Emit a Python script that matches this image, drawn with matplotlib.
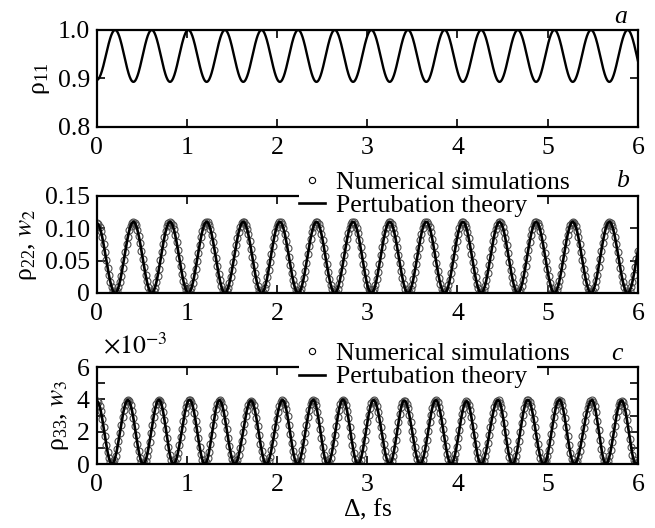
import numpy as np
import matplotlib.pyplot as plt
from matplotlib.lines import Line2D
from matplotlib.patches import Rectangle

plt.rcParams['font.family'] = ['Liberation Serif', 'DejaVu Serif']
plt.rcParams['mathtext.fontset'] = 'stix'
plt.rcParams['font.size'] = 18.5

# extrema of rho11 and rho22 (fs), the last one lies just past 6
ext_x_ab = [0.0, 0.203, 0.406, 0.609, 0.812, 1.015, 1.218, 1.421, 1.624, 1.827,
            2.030, 2.233, 2.436, 2.639, 2.842, 3.045, 3.248, 3.451, 3.654, 3.857,
            4.060, 4.263, 4.466, 4.669, 4.872, 5.075, 5.278, 5.481, 5.684, 5.887, 6.090]
rho11_ext = [0.897, 1.0, 0.893, 1.0, 0.893, 1.0, 0.893, 1.0, 0.893, 1.0,
             0.893, 1.0, 0.893, 1.0, 0.893, 1.0, 0.893, 1.0, 0.893, 1.0,
             0.893, 1.0, 0.893, 1.0, 0.893, 1.0, 0.893, 1.0, 0.893, 1.0, 0.893]
rho22_ext = [0.108, 0.0, 0.110, 0.0, 0.110, 0.0, 0.110, 0.0, 0.110, 0.0,
             0.110, 0.0, 0.110, 0.0, 0.110, 0.0, 0.110, 0.0, 0.110, 0.0,
             0.110, 0.0, 0.110, 0.0, 0.110, 0.0, 0.110, 0.0, 0.110, 0.0, 0.110]

# extrema of rho33 (units of 1e-3)
ext_x_c = [0.0, 0.168, 0.345, 0.515, 0.690, 0.850, 1.030, 1.198, 1.360, 1.530,
           1.710, 1.880, 2.060, 2.225, 2.400, 2.560, 2.730, 2.896, 3.070, 3.247,
           3.410, 3.586, 3.760, 3.930, 4.100, 4.262, 4.450, 4.610, 4.780, 4.956,
           5.130, 5.296, 5.490, 5.646, 5.820, 5.980, 6.160]
rho33_ext = [3.90, 0.0, 3.95, 0.0, 3.97, 0.0, 3.98, 0.0, 3.95, 0.0,
             3.92, 0.0, 3.95, 0.0, 3.97, 0.0, 3.98, 0.0, 3.95, 0.0,
             3.93, 0.0, 3.95, 0.0, 3.88, 0.0, 3.95, 0.0, 3.97, 0.0,
             3.98, 0.0, 3.95, 0.0, 3.92, 0.0, 3.90]

xticks = [0, 1, 2, 3, 4, 5, 6]


def through_extrema(x, xe, ye):
    # smooth half-cosine run between neighbouring extrema
    xe = np.asarray(xe)
    ye = np.asarray(ye)
    i = np.clip(np.searchsorted(xe, x, side='right') - 1, 0, len(xe) - 2)
    t = (x - xe[i]) / (xe[i + 1] - xe[i])
    s = (1 - np.cos(np.pi * t)) / 2
    return ye[i] + (ye[i + 1] - ye[i]) * s


x_line = np.linspace(0, 6, 1500)
x_sim = np.arange(0, 6.0001, 0.015)

W, H = 655, 528
fig = plt.figure(figsize=(6.55, 5.28), dpi=100)
left, width, height = 0.1478, 0.826, 0.1837
ax_a = fig.add_axes([left, 0.7595, width, height])
ax_b = fig.add_axes([left, 0.4451, width, height])
ax_c = fig.add_axes([left, 0.1212, width, height])

for ax in (ax_a, ax_b, ax_c):
    ax.set_xlim(0, 6)
    ax.set_xticks(xticks)
    ax.tick_params(which='both', direction='in', top=True, right=True,
                   length=6, width=1.2)
    ax.tick_params(axis='x', pad=7)
    ax.tick_params(axis='y', pad=5)
    for sp in ax.spines.values():
        sp.set_linewidth(1.6)

# panel a
ax_a.plot(x_line, through_extrema(x_line, ext_x_ab, rho11_ext), color='black', lw=1.7)
ax_a.set_ylim(0.8, 1.0)
ax_a.set_yticks([0.8, 0.9, 1.0])
ax_a.set_yticklabels(['0.8', '0.9', '1.0'])
ax_a.set_ylabel(r'$\mathregular{ρ_{11}}$')

sim_style = dict(ls='none', marker='o', ms=5, mfc='none', mec='0.3', mew=0.8)


def sim_and_theory(ax, xe, ye):
    ax.plot(x_sim, through_extrema(x_sim, xe, ye), zorder=2, **sim_style)
    ax.plot(x_line, through_extrema(x_line, xe, ye), color='black', lw=1.9, zorder=3)
    top = ax.get_position().y1
    # white strip where the legend sits over the top frame
    ax.add_patch(Rectangle((299 / W, top - 10 / H), 238 / W, 14 / H,
                           transform=fig.transFigure, facecolor='white',
                           edgecolor='none', clip_on=False, zorder=6))
    handles = [Line2D([], [], ls='none', marker='o', ms=4.5, mfc='none', mec='black', mew=0.8),
               Line2D([], [], color='black', lw=1.9)]
    leg = ax.legend(handles, ['Numerical simulations', 'Pertubation theory'],
                    loc='upper left', bbox_to_anchor=(299 / W, top + 25 / H),
                    bbox_transform=fig.transFigure, frameon=False,
                    borderpad=0.0, borderaxespad=0, handlelength=1.0,
                    handletextpad=0.45, labelspacing=0.02)
    leg.set_zorder(10)


# panel b
sim_and_theory(ax_b, ext_x_ab, rho22_ext)
ax_b.set_ylim(0, 0.15)
ax_b.set_yticks([0, 0.05, 0.10, 0.15])
ax_b.set_yticklabels(['0', '0.05', '0.10', '0.15'])
ax_b.set_ylabel(r'$\mathregular{ρ_{22}}$, $w_2$')

# panel c
sim_and_theory(ax_c, ext_x_c, rho33_ext)
ax_c.set_ylim(0, 6)
ax_c.set_yticks([0, 2, 4, 6])
ax_c.set_yticklabels(['0', '2', '4', '6'])
ax_c.set_yticks([1, 3, 5], minor=True)
ax_c.set_ylabel(r'$\mathregular{ρ_{33}}$, $w_3$')
ax_c.set_xlabel(r'$\mathregular{Δ}$, fs', labelpad=1)
fig.text(103 / W, 1 - 354 / H, r'$\times10^{-3}$', ha='left', va='baseline')

# panel letters
fig.text(621 / W, 1 - 23 / H, 'a', style='italic', ha='center', va='baseline')
fig.text(622 / W, 1 - 187 / H, 'b', style='italic', ha='center', va='baseline')
fig.text(617 / W, 1 - 360 / H, 'c', style='italic', ha='center', va='baseline')

fig.savefig('out.png', dpi=100)
